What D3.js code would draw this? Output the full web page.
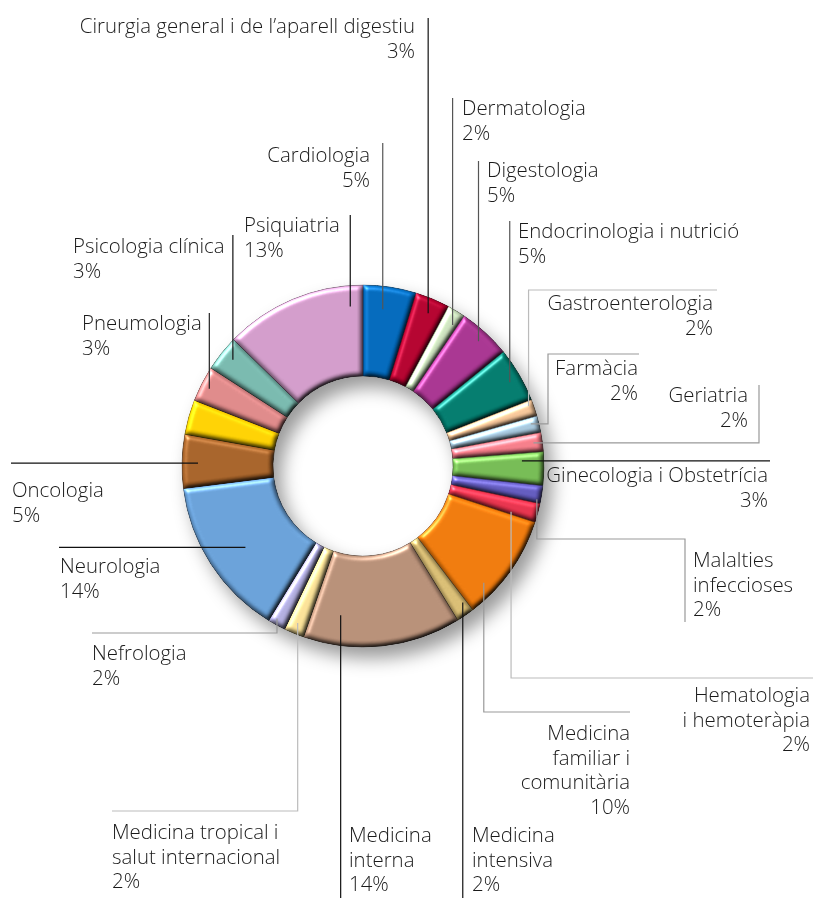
<!DOCTYPE html>
<html>
<head>
<meta charset="utf-8">
<script src="https://cdn.jsdelivr.net/npm/d3@7"></script>
<style>
  html, body { margin: 0; padding: 0; background: #fff; }
  text { font-family: 'Open Sans', 'Noto Sans', sans-serif; font-weight: 300; font-size: 20.4px; fill: #1a1a1a; }
</style>
</head>
<body>
<svg id="chart" width="815" height="898"></svg>
<script>
// Specialities, clockwise from 12 o'clock.
const categories = [
    'Cardiologia', 'Cirurgia general i de l’aparell digestiu', 'Dermatologia', 'Digestologia',
    'Endocrinologia i nutrició', 'Gastroenterologia', 'Farmàcia', 'Geriatria',
    'Ginecologia i Obstetrícia', 'Malalties infeccioses', 'Hematologia i hemoteràpia',
    'Medicina familiar i comunitària', 'Medicina intensiva', 'Medicina interna',
    'Medicina tropical i salut internacional', 'Nefrologia', 'Neurologia', 'Oncologia',
    '', 'Pneumologia', 'Psicologia clínica', 'Psiquiatria'
];

// Slice shares (percent).
const shares = [4.75, 3.1, 1.6, 4.7, 4.9, 1.5, 1.5, 1.7, 3.0, 1.6, 1.7, 9.6, 1.6, 14.1, 1.8, 1.6, 14.3, 4.8, 3.1, 3.2, 3.2, 12.7];

// Printed percentages.
const pctLabels = ['5%', '3%', '2%', '5%', '5%', '2%', '2%', '2%', '3%', '2%', '2%', '10%', '2%', '14%', '2%', '2%', '14%', '5%', '', '3%', '3%', '13%'];

// Label text split into printed lines.
const labelLines = [
    ['Cardiologia'], ['Cirurgia general i de l’aparell digestiu'], ['Dermatologia'], ['Digestologia'],
    ['Endocrinologia i nutrició'], ['Gastroenterologia'], ['Farmàcia'], ['Geriatria'],
    ['Ginecologia i Obstetrícia'], ['Malalties', 'infeccioses'], ['Hematologia', 'i hemoteràpia'],
    ['Medicina', 'familiar i', 'comunitària'], ['Medicina', 'intensiva'], ['Medicina', 'interna'],
    ['Medicina tropical i', 'salut internacional'], ['Nefrologia'], ['Neurologia'], ['Oncologia'],
    [], ['Pneumologia'], ['Psicologia clínica'], ['Psiquiatria']
];

const colors = [
    '#0068bb', '#b3002d', '#cde3bf', '#a7338f', '#007a6c', '#f5c598', '#a5c6dc', '#f47c88',
    '#74ba52', '#6159bd', '#e6314b', '#ef790a', '#d8bc72', '#b68e76', '#fae196', '#b1addf',
    '#68a0d8', '#a66228', '#fdd000', '#de8888', '#77b8ad', '#d19bc9'
];

const W = 815, H = 898;
const cx = 363, cy = 466, outerR = 181, innerR = 90;
const lineH = 24.5;

// Leader layout: where inside the slice the leader starts (t along the slice, radius),
// then the route as vertical/horizontal steps, then text anchor and first baseline.
const layout = [
    { t: .42, r: 158, route: [['v', 143]], anchor: 'end', x: 370, y: 162, stroke: '#555' },
    { t: .54, r: 166, route: [['v', 18]], anchor: 'end', x: 415, y: 33, stroke: '#111' },
    { t: .73, r: 167, route: [['v', 98]], anchor: 'start', x: 462, y: 115, stroke: '#555' },
    { t: .52, r: 170, route: [['v', 161]], anchor: 'start', x: 487, y: 177, stroke: '#555' },
    { t: .53, r: 169, route: [['v', 221]], anchor: 'start', x: 518, y: 238, stroke: '#555' },
    { t: .30, r: 176, route: [['v', 290], ['h', 717]], anchor: 'end', x: 713, y: 310, stroke: '#bbb' },
    { t: .36, r: 173, route: [['h', 548], ['v', 354], ['h', 639]], anchor: 'end', x: 638, y: 375, stroke: '#999' },
    { t: .48, r: 172, route: [['h', 759], ['v', 385]], anchor: 'end', x: 748, y: 402, stroke: '#999' },
    { t: .25, r: 159, route: [['h', 770]], anchor: 'end', x: 768, y: 482, stroke: '#111' },
    { t: .80, r: 177, route: [['v', 539], ['h', 685], ['v', 622]], anchor: 'start', x: 693, y: 567, stroke: '#999' },
    { t: .85, r: 155, route: [['v', 678], ['h', 813]], anchor: 'end', x: 810, y: 702, stroke: '#bbb' },
    { t: .75, r: 168, route: [['v', 712], ['h', 630]], anchor: 'end', x: 630, y: 740, stroke: '#999' },
    { t: .20, r: 169, route: [['v', 898]], anchor: 'start', x: 472, y: 842, stroke: '#111' },
    { t: .79, r: 151, route: [['v', 898]], anchor: 'start', x: 349, y: 842, stroke: '#111' },
    { t: .53, r: 170, route: [['v', 811], ['h', 112]], anchor: 'start', x: 112, y: 839, stroke: '#bbb' },
    { t: .66, r: 175, route: [['v', 633], ['h', 92]], anchor: 'start', x: 92, y: 660, stroke: '#999' },
    { t: .465, r: 143, route: [['h', 59]], anchor: 'start', x: 60, y: 573, stroke: '#111' },
    { t: .47, r: 165, route: [['h', 11]], anchor: 'start', x: 12, y: 497, stroke: '#111' },
    null,
    { t: .47, r: 172, route: [['v', 313]], anchor: 'start', x: 82, y: 330, stroke: '#222' },
    { t: .56, r: 168, route: [['v', 235]], anchor: 'start', x: 73, y: 253, stroke: '#111' },
    { t: .90, r: 160, route: [['v', 215]], anchor: 'start', x: 244, y: 232, stroke: '#111' }
];

const svg = d3.select('#chart').attr('viewBox', `0 0 ${W} ${H}`);
const defs = svg.append('defs');

// Soft shadow cast by the whole ring (also falls into the hole).
const shadow = defs.append('filter').attr('id', 'ringShadow')
    .attr('color-interpolation-filters', 'sRGB')
    .attr('x', '-20%').attr('y', '-20%').attr('width', '150%').attr('height', '150%');
shadow.append('feDropShadow')
    .attr('dx', 8).attr('dy', 11).attr('stdDeviation', 9)
    .attr('flood-color', '#000').attr('flood-opacity', 0.4);

// Pillow bevel on every slice.
const bevel = defs.append('filter').attr('id', 'bevel')
    .attr('color-interpolation-filters', 'sRGB')
    .attr('x', '-5%').attr('y', '-5%').attr('width', '110%').attr('height', '110%');
bevel.append('feGaussianBlur').attr('in', 'SourceAlpha').attr('stdDeviation', 2.6).attr('result', 'blur');
bevel.append('feDiffuseLighting').attr('in', 'blur').attr('surfaceScale', 3.5)
    .attr('diffuseConstant', 1).attr('lighting-color', '#fff').attr('result', 'diff')
    .append('feDistantLight').attr('azimuth', 235).attr('elevation', 55);
bevel.append('feComposite').attr('in', 'SourceGraphic').attr('in2', 'diff')
    .attr('operator', 'arithmetic').attr('k1', 1.2).attr('k2', 0).attr('k3', 0).attr('k4', 0)
    .attr('result', 'lit');
bevel.append('feSpecularLighting').attr('in', 'blur').attr('surfaceScale', 3.5)
    .attr('specularConstant', 0.45).attr('specularExponent', 24).attr('lighting-color', '#fff')
    .attr('result', 'spec')
    .append('feDistantLight').attr('azimuth', 235).attr('elevation', 35);
bevel.append('feComposite').attr('in', 'spec').attr('in2', 'SourceAlpha').attr('operator', 'in').attr('result', 'specIn');
bevel.append('feComposite').attr('in', 'lit').attr('in2', 'specIn')
    .attr('operator', 'arithmetic').attr('k1', 0).attr('k2', 1).attr('k3', 1).attr('k4', 0)
    .attr('result', 'out');
bevel.append('feComposite').attr('in', 'out').attr('in2', 'SourceAlpha').attr('operator', 'in');

const pie = d3.pie().sort(null).value(d => d);
const arcs = pie(shares);
const arc = d3.arc().innerRadius(innerR).outerRadius(outerR);

const ring = svg.append('g')
    .attr('transform', `translate(${cx},${cy})`)
    .attr('filter', 'url(#ringShadow)');

ring.selectAll('path')
    .data(arcs)
    .join('path')
    .attr('d', arc)
    .attr('fill', (d, i) => colors[i])
    .attr('stroke', (d, i) => d3.color(colors[i]).darker(1.6))
    .attr('stroke-width', 0.8)
    .attr('filter', 'url(#bevel)');

// Point inside slice i, measured clockwise from 12 o'clock.
const anchorPoint = (d, t, rr) => {
    const a = d.startAngle + t * (d.endAngle - d.startAngle);
    return [cx + rr * Math.sin(a), cy - rr * Math.cos(a)];
};

const labels = svg.append('g');

arcs.forEach((d, i) => {

    const lay = layout[i];
    if (!lay) return;

    // Leader line.
    let [x, y] = anchorPoint(d, lay.t, lay.r);
    const p = d3.path();
    p.moveTo(x, y);
    lay.route.forEach(([dir, v]) => {
        if (dir === 'v') y = v; else x = v;
        p.lineTo(x, y);
    });
    labels.append('path')
        .attr('d', p.toString())
        .attr('fill', 'none')
        .attr('stroke', lay.stroke)
        .attr('stroke-width', 1.2);

    // Label text: name lines then percentage.
    const lines = labelLines[i].concat(pctLabels[i]);
    const text = labels.append('text')
        .attr('text-anchor', lay.anchor)
        .attr('x', lay.x)
        .attr('y', lay.y);
    text.selectAll('tspan')
        .data(lines)
        .join('tspan')
        .attr('x', lay.x)
        .attr('dy', (s, k) => k === 0 ? 0 : lineH)
        .text(s => s);

});
</script>
</body>
</html>
